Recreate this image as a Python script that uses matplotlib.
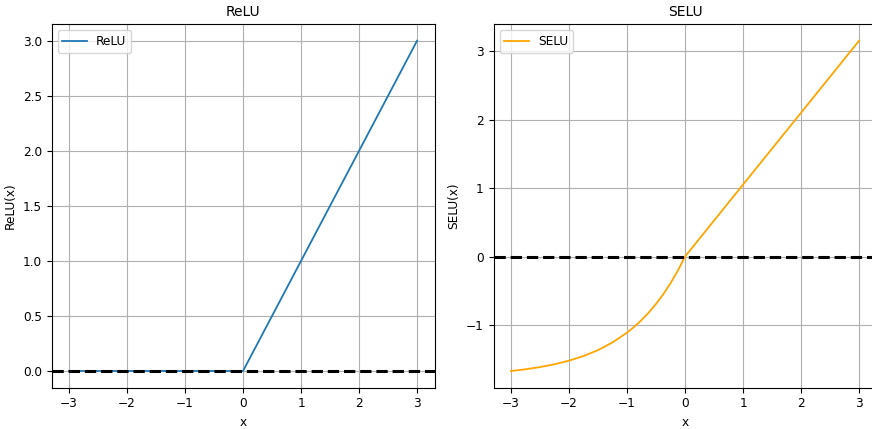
import matplotlib
matplotlib.use("Agg")
import matplotlib.pyplot as plt

# values
relu_x = [-3.0, 0.0, 3.0]
relu_y = [0.0, 0.0, 3.0]

selu_x = [-3.0, -2.75, -2.5, -2.25, -2.0, -1.75, -1.5, -1.25, -1.0, -0.875,
          -0.75, -0.625, -0.5, -0.375, -0.25, -0.125, 0.0, 1.0, 2.0, 3.0]
selu_y = [-1.671, -1.646, -1.614, -1.573, -1.520, -1.453, -1.366, -1.254,
          -1.111, -1.025, -0.928, -0.817, -0.692, -0.550, -0.389, -0.207,
          0.0, 1.051, 2.101, 3.152]

plt.rcParams["font.size"] = 8.7

fig = plt.figure(figsize=(8.72, 4.29), dpi=100)
ax1 = fig.add_axes([0.0591, 0.0967, 0.4392, 0.847])
ax2 = fig.add_axes([0.566, 0.0967, 0.4392, 0.847])

panels = [
    (ax1, relu_x, relu_y, "ReLU", "#1f77b4"),
    (ax2, selu_x, selu_y, "SELU", "orange"),
]

for ax, xs, ys, name, color in panels:
    ax.plot(xs, ys, color=color, linewidth=1.3, label=name)
    ax.axhline(0, color="black", linestyle="--", linewidth=2.2)
    ax.set_title(name, fontsize=10)
    ax.set_xlabel("x")
    ax.set_ylabel(f"{name}(x)")
    ax.legend(loc="upper left")
    ax.grid(True)

fig.savefig("out.png", dpi=100)
